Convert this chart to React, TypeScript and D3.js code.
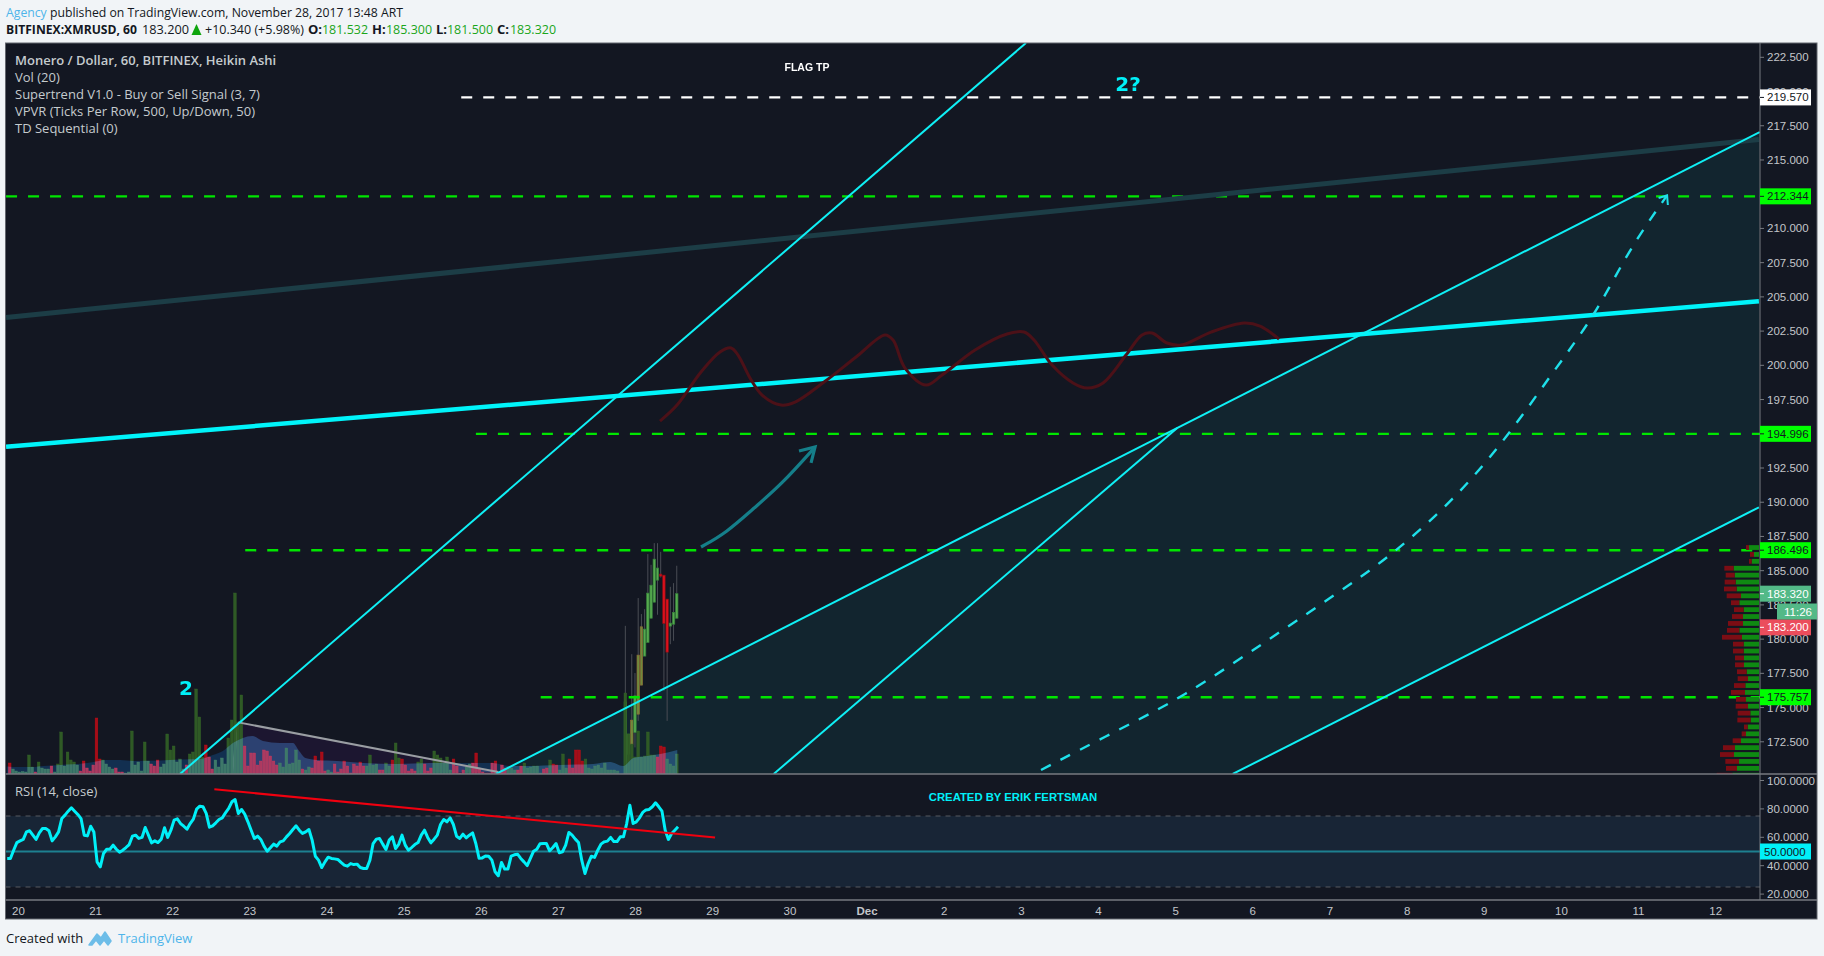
import React from "react";
import * as d3 from "d3";

const W = 1824, H = 956;
const PL = 5.5, PR = 1817, AX = 1760, PT = 43, MB = 774, RB = 900, TB = 919;

const dayTicks = ["20","21","22","23","24","25","26","27","28","29","30","Dec","2","3","4","5","6","7","8","9","10","11","12"];
const priceTicks = [222.5,220,217.5,215,212.5,210,207.5,205,202.5,200,197.5,195,192.5,190,187.5,185,182.5,180,177.5,175,172.5];
const rsiTicks = [100,80,60,40,20];

const volA = [-11,5,3,2,2.5,2,19,7,-2,12,6,5,5,-8,2,10,42,8,22,14,12,9,-3,-13,-6,-3,-9,-56,-15,14,10,7,5,-6,-2,-2,1,2,43,9,12,3,32,13,-10,-8,-14,7,10,40,24,28,12,15,5,-9,20,22,85,57,17,-29,-17,-5,14,7,16,10,36];
const volB = [54,181,52,79,-28,-8,-21,-21,-9,-13,-24,-23,-18,-13,-9,11,7,26,10,11,24,14,-5,4,7,-6,-18,-13,-22,-3,4,2,-10,-2,-5,-13,-8,-1,-10,-8,-12,-8,8,19,9,10,-4,-4,11,8,-14,31,16,-15,-9,-3,-5,-3,12,15,-10,-3,-6,23,19,16,11,17,4,-15,-8,-1];
const volC = [-4,7,10,-11,-21,-6,-2,-1,-1,-11,-13,-2,-9,-6,7,6,4,-4,-8,11,6,7,8,8,1,-5,-6,14,-10,-9,4,20,6,-15,-6,-24,-24,-13,15,6,5,8,9,6,11,4,4,4,3];
const volD = [81,40,30,17,43,17,18,42,19,19,-17,-28,-27,15,10,8,20];
const volStarts = [19.887, 22.765, 25.767, 27.867];

const maDays = [19.85,20.02,20.19,20.32,20.54,20.89,21.15,21.32,21.49,21.84,22.09,22.35,22.52,22.65,22.78,22.91,23.03,23.17,23.39,23.56,23.63,23.72,23.87,24.13,24.47,24.91,25.33,25.76,26.15,26.37,26.59,27.02,27.45,27.67,27.84,27.97,28.15,28.32,28.54];
const maVals = [7.6,7,7,8,9,11,14,14,13,13.5,14.5,15,19,23,31,36,38,33,31,31,24,16,14,13,11,10,11,11,11,8,8,9,10,12,8,16,18,20,24];

const candleOpen = [170.12,171.6,172.33,173.18,174.52,176.64,178.76,179.76,181.53,182.7,184.31,184.75,184.67,182.92,180.95,181.09,181.53];
const candleClose = [175.42,173.06,174.08,175.86,178.83,180.9,180.73,183.36,183.94,185.84,185.19,184.6,181.14,179.05,181.17,181.95,183.32];
const candleHigh = [180.97,173.06,178.9,177.52,183.0,181.83,182.19,186.21,185.43,187.01,187.01,186.38,184.67,182.92,183.82,184.09,185.36];
const candleLow = [170.09,171.6,171.11,172.09,174.03,176.64,178.76,179.76,181.5,182.68,181.78,184.5,176.22,174.03,179.63,179.88,181.5];
const candleTint = ["g","g","o","g","o","o","g","g","g","g","g","r","r","r","g","g","g"];
const candleStart = 27.867;

const rsiVals = [45.1,45.1,50.9,56.3,57.5,58.5,63.8,64.6,61.5,58.5,63.1,66.2,66.2,64.6,57.5,60.3,63.8,73.2,75.6,78.4,80.8,78.4,76.1,73.2,61.5,61,67.8,63.8,42.7,39.2,48.6,51.6,51.6,54.5,51.6,49.5,50.9,52.8,54.9,60.8,61.5,59.2,59.9,66.9,61.5,56.1,57.5,56.3,58.7,66.7,59.9,65,72.1,73,69.7,67.8,65.7,69.7,72.8,79.8,81.9,81.5,76.8,67.1,68.1,70.2,72.5,73.7,77.2,80.3,85,86.6,76.8,79.6,76.3,70.9,65,59.2,60.8,58.5,53.8,50.2,52.6,55.2,53.8,56.8,57.5,60.3,62.7,65.5,68.1,65,62.7,63.8,65.5,58,46.7,43.9,38.7,42.7,46,45.1,44.8,44.4,42.3,40.4,39.7,41.5,40.8,41.1,38.7,
38,38,43.9,55.6,58.7,59.2,55.2,51.4,58,60.3,52.1,55.2,61.5,54.5,50.9,52.8,54.9,56.3,61.5,65,59.9,56.1,58.7,61.5,69,72.5,70.9,73.7,69,60.8,59.2,62.2,59.6,61.5,63.1,55.6,45.3,45.5,46.9,46.7,43.9,35.7,32.9,42.3,37.6,37.6,46.7,47.7,48.1,45.1,42.7,40.1,45.1,50.2,51.6,55.4,55.6,55.6,50.5,52.8,55.6,49.1,49.8,54.5,63.4,61.5,58.7,56.3,43.9,34.5,41.5,46.7,45.8,50.9,55.2,56.8,57.3,59.9,57,57,60.3,60.3,69.7,82.6,69.7,70.9,73.7,77.5,79.3,79.6,81.5,84.3,81.5,78.4,65,58.5,62.7,65,67.4];

const waveDays = [28.316,28.537,28.848,29.094,29.237,29.328,29.483,29.639,29.885,30.067,30.443,30.858,31.233,31.337,31.492,31.765,31.972,32.4,32.814,33.035,33.164,33.398,33.67,33.851,34.059,34.357,34.564,34.694,34.888,35.07,35.459,35.887,36.094,36.34];
const wavePrices = [195.93,197.1,199.51,200.97,201.27,200.75,199.07,197.83,197.1,197.32,198.78,200.61,202.22,201.85,199.8,198.56,199.29,201.12,202.29,202.43,201.85,200.02,198.71,198.34,198.71,200.75,202.22,202.36,201.63,201.48,202.43,203.09,202.87,201.92];

const arrowDays = [28.848,29.172,29.535,29.885,30.326];
const arrowPrices = [186.73,187.75,189.58,191.26,194.03];
const arrowHeadDays = [30.118,30.326,30.274];
const arrowHeadPrices = [193.74,194.03,192.87];

const curveDays = [33.255,34.24,35.08,36.2,37.1,37.79,38.61,39.31,39.89,40.45,40.87,41.37];
const curvePrices = [170.44,173.33,175.7,179.94,183.37,186.07,190.16,194.84,199.51,203.75,208.42,212.41];
const curveHeadDays = [41.26,41.37,41.38];
const curveHeadPrices = [212.22,212.41,211.71];

const trendLines: [number, number, number, number, string, number][] = [
  [19.84,203.49,42.56,216.49,"#1c3d46",5],
  [22.095,170.15,33.06,223.55,"#0ff0f5",2],
  [19.84,194.06,42.56,204.68,"#00f4fa",4.5],
  [26.19,170.15,42.57,217.04,"#0ff0f5",2],
  [29.79,170.15,35.02,195.42,"#0ff0f5",2],
  [35.74,170.15,42.56,189.63,"#0ff0f5",2],
];
const channelDays = [26.19,42.57,42.56,35.74];
const channelPrices = [170.15,217.04,189.63,170.15];

const triangleDays = [22.77,22.85,26.22];
const trianglePrices = [170.15,173.92,170.29];

const levels: [number, number, string][] = [
  [219.57,25.74,"#ffffff"],
  [212.344,19.84,"#00e600"],
  [194.996,25.93,"#00e600"],
  [186.496,22.94,"#00e600"],
  [175.757,26.77,"#00e600"],
];

const vpvrUp = [30,15,22,76,73,70,67,54,59,46,48,48,59,51,46,46,45,45,37,33,41,42,39,33,26,25,34,39,54,72,75,60,66,80];
const vpvrDown = [9,12,8,28,27,33,38,43,25,29,33,45,37,60,32,32,27,27,29,31,34,42,30,37,38,40,11,13,25,36,42,41,33,47];
const vpvrTop = 186.69;
const vpvrStep = 0.504;

const legend = ["Monero / Dollar, 60, BITFINEX, Heikin Ashi","Vol (20)","Supertrend V1.0 - Buy or Sell Signal (3, 7)","VPVR (Ticks Per Row, 500, Up/Down, 50)","TD Sequential (0)"];

const x = d3.scaleLinear().domain([20, 42]).range([18.4, 1715.7]);
const y = d3.scaleLinear().domain([222.5, 172.5]).range([57.3, 741.8]);
const yRsi = d3.scaleLinear().domain([100, 20]).range([780.5, 894.1]);
const yVol = d3.scaleLinear().domain([0, 181]).range([MB, 593]);
const rsiX = d3.scaleLinear().domain([0, rsiVals.length - 1]).range([19.855, 28.55]);
const vpW = d3.scaleLinear().domain([0, 3]).range([0, 1]);

const line = (ds: number[], ps: number[], curve: any = d3.curveLinear) =>
  d3.line<number>().x((d) => x(d)).y((_, i) => y(ps[i])).curve(curve)(ds) as string;

const UI = "'Open Sans', sans-serif";
const AXF = "'Liberation Sans', Arial, sans-serif";

const vols = [volA, volB, volC, volD].flatMap((arr, k) =>
  arr.map((v, i) => ({ day: volStarts[k] + i / 24, v })));

function Tag({ val, dy = 0, bg, fg, label }: { val: number; dy?: number; bg: string; fg: string; label: string }) {
  const cy = y(val) + dy;
  return (
    <g>
      <rect x={AX} y={cy - 8} width={51} height={16} fill={bg} />
      <line x1={AX} x2={AX + 4} y1={cy} y2={cy} stroke={fg} />
      <text x={1767} y={cy + 4} fontFamily={AXF} fontSize={11.5} fill={fg}>{label}</text>
    </g>
  );
}

export default function App() {
  return (
    <svg width={W} height={H} viewBox={`0 0 ${W} ${H}`} style={{ position: "absolute", left: 0, top: 0, display: "block" }}>
      <defs>
        <clipPath id="main"><rect x={PL} y={PT} width={AX - PL} height={MB - PT} /></clipPath>
        <clipPath id="rsi"><rect x={PL} y={MB} width={AX - PL} height={RB - MB} /></clipPath>
      </defs>
      <rect width={W} height={H} fill="#f1f4f7" />

      <text x={6} y={17} fontFamily={UI} fontSize={13} fill="#131722" textLength={397} lengthAdjust="spacingAndGlyphs">
        <tspan fill="#4eb4ea">Agency</tspan> published on TradingView.com, November 28, 2017 13:48 ART
      </text>
      <g fontFamily={UI} fontSize={13}>
        <text x={6} y={34} fontWeight={700} fill="#131722" textLength={131} lengthAdjust="spacingAndGlyphs">BITFINEX:XMRUSD, 60</text>
        <text x={142} y={34} fill="#131722" textLength={47} lengthAdjust="spacingAndGlyphs">183.200</text>
        <path d="M191.5,35 L196.5,24 L201.5,35 Z" fill="#0ea50e" />
        <text x={205} y={34} fill="#131722" textLength={99} lengthAdjust="spacingAndGlyphs">+10.340 (+5.98%)</text>
        <text x={308} y={34} fontWeight={700} fill="#131722">O:</text>
        <text x={322} y={34} fill="#1aa51a" textLength={46} lengthAdjust="spacingAndGlyphs">181.532</text>
        <text x={372} y={34} fontWeight={700} fill="#131722">H:</text>
        <text x={386} y={34} fill="#1aa51a" textLength={46} lengthAdjust="spacingAndGlyphs">185.300</text>
        <text x={436} y={34} fontWeight={700} fill="#131722">L:</text>
        <text x={447} y={34} fill="#1aa51a" textLength={46} lengthAdjust="spacingAndGlyphs">181.500</text>
        <text x={497} y={34} fontWeight={700} fill="#131722">C:</text>
        <text x={510} y={34} fill="#1aa51a" textLength={46} lengthAdjust="spacingAndGlyphs">183.320</text>
      </g>

      <rect x={PL} y={PT} width={PR - PL} height={TB - PT} fill="#131722" />

      {/* main pane */}
      <g clipPath="url(#main)">
        <path d={line(channelDays, channelPrices) + "Z"} fill="#12252f" />
        <path d={line(triangleDays, trianglePrices) + "Z"} fill="#1c1630" />
        <path d={line(triangleDays.slice(0, 2), trianglePrices.slice(0, 2))} fill="none" stroke="#6c7074" strokeWidth={2} />
        {candleOpen.map((o, i) => {
          const d = candleStart + i / 24;
          const c = candleClose[i];
          const tint = candleTint[i];
          const fill = tint === "r" ? "#e0111c" : tint === "o" ? "#6f8a3c" : "#56a94f";
          const stroke = tint === "r" ? "#8c0f16" : tint === "o" ? "#8a6b35" : "#35803a";
          return (
            <g key={i}>
              <line x1={x(d)} x2={x(d)} y1={y(candleHigh[i])} y2={y(candleLow[i])} stroke="#4a4d55" />
              <rect x={x(d) - 1.2} width={2.4} y={y(Math.max(o, c))} height={Math.max(1.5, Math.abs(y(o) - y(c)))} fill={fill} stroke={stroke} strokeWidth={0.7} />
            </g>
          );
        })}
        <line x1={x(candleStart)} x2={x(candleStart)} y1={y(candleClose[0])} y2={MB} stroke="#62d85a" strokeWidth={1.5} />
        {vols.map((b, i) => (
          <rect key={i} x={x(b.day) - 1.35} width={2.7} y={yVol(Math.abs(b.v))} height={MB - yVol(Math.abs(b.v))}
            fill={b.v < 0 ? "#a50d18" : "#2f5a25"} stroke={b.v < 0 ? "#c00d18" : "#35652a"} strokeWidth={0.4} />
        ))}
        <path
          d={(d3.area<number>().x((d) => x(d)).y0(MB).y1((_, i) => yVol(maVals[i])).curve(d3.curveMonotoneX))(maDays) as string}
          fill="#122f50" style={{ mixBlendMode: "screen" }}
        />
        {levels.map(([p, d, col], i) => (
          <line key={i} x1={x(d)} x2={AX} y1={y(p)} y2={y(p)} stroke={col} strokeWidth={2.4} strokeDasharray="11 11" />
        ))}
        <path d={line(triangleDays.slice(1), trianglePrices.slice(1))} fill="none" stroke="#9a9ea3" strokeWidth={2} />
        {trendLines.map((t, i) => (
          <line key={i} x1={x(t[0])} y1={y(t[1])} x2={x(t[2])} y2={y(t[3])} stroke={t[4]} strokeWidth={t[5]} />
        ))}
        <path d={line(waveDays, wavePrices, d3.curveCatmullRom)} fill="none" stroke="#4c1118" strokeWidth={3} />
        <path d={line(arrowDays, arrowPrices, d3.curveBasis)} fill="none" stroke="#157f8a" strokeWidth={3.2} />
        <path d={line(arrowHeadDays, arrowHeadPrices)} fill="none" stroke="#157f8a" strokeWidth={3.2} />
        <path d={line(curveDays, curvePrices, d3.curveBasis)} fill="none" stroke="#1ee0ea" strokeWidth={2.4} strokeDasharray="11 11" />
        <path d={line(curveHeadDays, curveHeadPrices)} fill="none" stroke="#1ee0ea" strokeWidth={2} />
        {vpvrUp.map((u, i) => {
          const py = y(vpvrTop - i * vpvrStep);
          const g = vpW(u), r = vpW(vpvrDown[i]);
          return (
            <g key={i}>
              <rect x={AX - 1 - g} y={py - 2.4} width={g} height={4.8} fill="#0f8a12" />
              <rect x={AX - 1 - g - r} y={py - 2.4} width={r} height={4.8} fill="#7c0d14" />
            </g>
          );
        })}
        <text x={807} y={71} textAnchor="middle" fontFamily={AXF} fontWeight={700} fontSize={10.5} fill="#ffffff">FLAG TP</text>
        <text x={1128} y={91} textAnchor="middle" fontFamily="'DejaVu Sans', sans-serif" fontWeight={700} fontSize={20} fill="#00f0f8">2?</text>
        <text x={186} y={695} textAnchor="middle" fontFamily="'DejaVu Sans', sans-serif" fontWeight={700} fontSize={20} fill="#00f0f8">2</text>
      </g>

      {/* RSI pane */}
      <g clipPath="url(#rsi)">
        <rect x={PL} y={yRsi(75)} width={AX - PL} height={yRsi(25) - yRsi(75)} fill="#182536" />
        <line x1={PL} x2={AX} y1={yRsi(75)} y2={yRsi(75)} stroke="#565a60" strokeDasharray="5 5" />
        <line x1={PL} x2={AX} y1={yRsi(25)} y2={yRsi(25)} stroke="#565a60" strokeDasharray="5 5" />
        <line x1={PL} x2={AX} y1={yRsi(50)} y2={yRsi(50)} stroke="#1d8090" strokeWidth={2} />
        <path
          d={d3.line<number>().x((_, i) => x(rsiX(i))).y((v) => yRsi(v))(rsiVals) as string}
          fill="none" stroke="#00f0f8" strokeWidth={3} strokeLinejoin="round"
        />
        <line x1={x(22.54)} x2={x(29.03)} y1={yRsi(93.8)} y2={yRsi(59.8)} stroke="#f0000f" strokeWidth={2} />
        <text x={1013} y={801} textAnchor="middle" fontFamily={AXF} fontWeight={700} fontSize={11.3} fill="#00f0f8">CREATED BY ERIK FERTSMAN</text>
      </g>

      {/* legend */}
      <g fontFamily={UI} fontSize={13} fill="#c5cbce">
        {legend.map((t, i) => (
          <text key={i} x={15} y={65 + i * 17} fontWeight={i === 0 ? 600 : 400}>{t}</text>
        ))}
        <text x={15} y={796}>RSI (14, close)</text>
      </g>

      {/* frame and axes */}
      <rect x={PL} y={PT} width={PR - PL} height={TB - PT} fill="none" stroke="#63666e" />
      <line x1={PL} x2={PR} y1={MB} y2={MB} stroke="#777a80" strokeWidth={1.5} />
      <line x1={PL} x2={PR} y1={RB} y2={RB} stroke="#777a80" strokeWidth={1.5} />
      <line x1={AX} x2={AX} y1={PT} y2={RB} stroke="#777a80" />

      <g fontFamily={AXF} fontSize={11.5} fill="#c3c6ca">
        {priceTicks.map((p) => (
          <g key={p}>
            <line x1={AX} x2={AX + 4} y1={y(p)} y2={y(p)} stroke="#777a80" />
            <text x={1767} y={y(p) + 4}>{p.toFixed(3)}</text>
          </g>
        ))}
        {rsiTicks.map((p) => (
          <g key={p}>
            <line x1={AX} x2={AX + 4} y1={yRsi(p)} y2={yRsi(p)} stroke="#777a80" />
            <text x={1767} y={yRsi(p) + 4}>{p.toFixed(4)}</text>
          </g>
        ))}
        {dayTicks.map((t, i) => (
          <text key={i} x={x(20 + i)} y={914.5} textAnchor="middle" fontWeight={t === "Dec" ? 700 : 400}>{t}</text>
        ))}
      </g>

      <Tag val={219.57} bg="#ffffff" fg="#131722" label="219.570" />
      <Tag val={212.344} bg="#00ff00" fg="#131722" label="212.344" />
      <Tag val={194.996} bg="#00ff00" fg="#131722" label="194.996" />
      <Tag val={186.496} bg="#00ff00" fg="#131722" label="186.496" />
      <Tag val={175.757} bg="#00ff00" fg="#131722" label="175.757" />
      <Tag val={183.32} bg="#53b987" fg="#ffffff" label="183.320" />
      <Tag val={183.2} dy={32} bg="#eb4d5c" fg="#ffffff" label="183.200" />
      <rect x={1777} y={603.5} width={40} height={16} fill="#53b987" />
      <text x={1784} y={615.5} fontFamily={AXF} fontSize={11.5} fill="#ffffff">11:26</text>
      <rect x={AX} y={yRsi(50) - 8} width={51} height={16} fill="#00f0f8" />
      <text x={1764} y={yRsi(50) + 4} fontFamily={AXF} fontSize={11.5} fill="#131722">50.0000</text>

      {/* footer */}
      <text x={6} y={943} fontFamily={UI} fontSize={13} fill="#131722">Created with</text>
      <path d="M89,945 L97,934 L101,938 L105,932 L111,941 L108,945 L104,940 L100,945 L96,940 L92,945 Z" fill="#6dbde8" stroke="#6dbde8" strokeWidth={1.5} strokeLinejoin="round" />
      <text x={118} y={943} fontFamily={UI} fontSize={13} fill="#4eb4ea">TradingView</text>
    </svg>
  );
}
